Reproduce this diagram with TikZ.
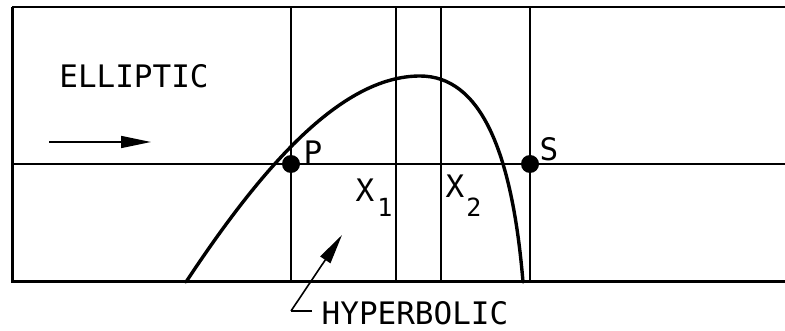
\documentclass[tikz,border=0pt]{standalone}
\usepackage{fontspec}
\newfontfamily\lettering{DejaVu Sans Mono}
\usetikzlibrary{arrows.meta}
\begin{document}
\begin{tikzpicture}[x=1pt,y=-1pt,
  thinline/.style={line width=1.4pt},
  thickline/.style={line width=3pt},
  curve/.style={line width=3.4pt,line cap=round,line join=round},
  dot/.style={circle,fill=black,inner sep=0pt,minimum size=18pt},
  lbl/.style={inner sep=0pt,font=\lettering\fontsize{31}{31}\selectfont},
  sub/.style={inner sep=0pt,font=\lettering\fontsize{25}{25}\selectfont},
  bigarrow/.style={line width=1.6pt,-{Triangle[length=30pt,width=12pt]}}]
\useasboundingbox (0,0) rectangle (785,331);
% frame
\coordinate (TL) at (12,7);
\coordinate (BL) at (12,282);
\coordinate (TR) at (785,7);
\coordinate (BR) at (785,282);
\coordinate (ML) at (12,164);
\coordinate (MR) at (785,164);
\draw[thinline] (TL) -- (TR);
\draw[thinline] (ML) -- (MR);
\draw[thickline] (TL) -- (BL) -- (BR);
% verticals
\foreach \x/\n in {291/a,396/b,441/c,530/d}{
  \coordinate (\n t) at (\x,7);
  \coordinate (\n b) at (\x,282);
  \draw[thinline] (\n t) -- (\n b);
}
% curve
\coordinate (c0) at (186,282);
\coordinate (cp) at (420,76);
\coordinate (c1) at (523,282);
\draw[curve] (c0) .. controls (260,170) and (340,76) .. (cp)
  .. controls (480,76) and (512,150) .. (c1);
% points
\node[dot] (P) at (291,164) {};
\node[dot] (S) at (530,164) {};
\node[lbl] (Pl) at (313,152) {P};
\node[lbl] (Sl) at (549,149) {S};
\node[lbl] (X1) at (365,190) {X};
\node[sub] (X1s) at (385,207) {1};
\node[lbl] (X2) at (455,186) {X};
\node[sub] (X2s) at (474,207) {2};
% elliptic
\node[lbl] (ell) at (134,76) {ELLIPTIC};
\coordinate (ea) at (49,142);
\coordinate (eb) at (151,142);
\draw[bigarrow] (ea) -- (eb);
% hyperbolic
\node[lbl] (hyp) at (415,313) {HYPERBOLIC};
\coordinate (hc) at (291,311);
\coordinate (he) at (312,311);
\coordinate (ht) at (342,235);
\draw[line width=1.6pt] (he) -- (hc);
\draw[bigarrow] (hc) -- (ht);
\end{tikzpicture}
\end{document}
